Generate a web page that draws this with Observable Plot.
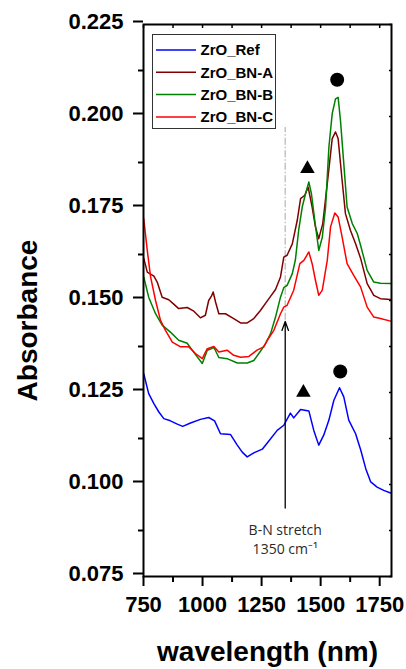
<!DOCTYPE html>
<html>
<head>
<meta charset="utf-8">
<script src="https://cdn.jsdelivr.net/npm/d3@7"></script>
<script src="https://cdn.jsdelivr.net/npm/@observablehq/plot@0.6"></script>
<style>
  html, body { margin: 0; padding: 0; background: #fff; }
  #wrap { position: relative; width: 406px; height: 669px; }
  #legend { position: absolute; left: 152px; top: 34px; width: 125px; height: 96px; }
</style>
</head>
<body>
<div id="wrap"><svg id="legend" width="125" height="96"></svg></div>
<script>
// ---- data ----
const seriesNames = ["ZrO_Ref", "ZrO_BN-A", "ZrO_BN-B", "ZrO_BN-C"];
const seriesColors = ["#0000ff", "#800000", "#008000", "#ff0000"];

const wlRef = [751,772,794,815,836,864,893,916,949,991,1026,1051,1076,1118,1147,1168,1189,1217,1253,1274,1316,1344,1372,1386,1415,1450,1471,1492,1513,1535,1556,1580,1598,1619,1648,1670,1691,1712,1739,1767,1796];
const absRef = [.1301,.1247,.1220,.1197,.1179,.1173,.1164,.1158,.1167,.1177,.1182,.1173,.1138,.1136,.1107,.1088,.1075,.1086,.1096,.1113,.1147,.1161,.1194,.1181,.1204,.1200,.1147,.1107,.1134,.1175,.1229,.1263,.1238,.1175,.1138,.1093,.1043,.1007,.0993,.0984,.0977];

const wlA = [751,766,794,808,829,857,878,899,935,963,991,1012,1026,1037,1045,1055,1069,1097,1132,1161,1189,1217,1245,1281,1309,1330,1344,1358,1380,1401,1415,1433,1447,1464,1478,1492,1509,1528,1549,1563,1574,1591,1605,1626,1648,1669,1697,1725,1753,1796];
const absA = [.1615,.1577,.1566,.1550,.1509,.1502,.1490,.1478,.1481,.1471,.1453,.1460,.1500,.1511,.1523,.1496,.1464,.1464,.1451,.1439,.1439,.1451,.1473,.1505,.1530,.1564,.1618,.1623,.1654,.1718,.1777,.1786,.1808,.1754,.1700,.1668,.1709,.1817,.1940,.1958,.1940,.1826,.1736,.1691,.1654,.1615,.1546,.1514,.1505,.1503];

const wlB = [751,772,801,829,864,899,935,963,999,1020,1037,1048,1069,1104,1147,1189,1217,1245,1267,1288,1309,1330,1344,1358,1380,1393,1407,1422,1436,1450,1461,1475,1492,1507,1521,1535,1549,1563,1574,1584,1598,1612,1634,1655,1669,1697,1725,1753,1796];
const absB = [.1564,.1509,.1464,.1433,.1414,.1392,.1384,.1359,.1329,.1365,.1369,.1373,.1345,.1342,.1330,.1330,.1337,.1362,.1383,.1410,.1455,.1509,.1535,.1541,.1573,.1610,.1691,.1754,.1790,.1822,.1790,.1718,.1636,.1672,.1754,.1917,.2008,.2048,.2052,.1989,.1872,.1754,.1709,.1682,.1650,.1582,.1550,.1547,.1546];

const wlC = [751,766,780,801,822,843,872,907,942,970,999,1020,1048,1069,1104,1132,1161,1196,1231,1259,1274,1302,1330,1344,1358,1386,1412,1429,1450,1464,1478,1492,1507,1528,1542,1560,1574,1591,1612,1640,1669,1697,1725,1753,1796];
const absC = [.1722,.1636,.1564,.1500,.1446,.1419,.1387,.1374,.1374,.1356,.1342,.1369,.1375,.1360,.1365,.1351,.1346,.1348,.1365,.1374,.1392,.1419,.1464,.1482,.1487,.1528,.1600,.1609,.1632,.1600,.1555,.1514,.1528,.1609,.1700,.1738,.1727,.1672,.1600,.1568,.1537,.1482,.1455,.1451,.1444];

// peak markers (triangles and circles)
const triWl = [1444, 1427];
const triAbs = [0.1858, 0.1250];
const circWl = [1570, 1583];
const circAbs = [0.2100, 0.1307];

// annotation
const annotWl = 1350;
const annotArrowFrom = 0.0936, annotArrowTo = 0.1443;
const annotGuideFrom = 0.1446, annotGuideTo = 0.1970;
const annotTextAbs = 0.0854;
const annotText = "B-N stretch\n1350 cm\u207B\u00B9";

// axes
const xMajor = [750, 1000, 1250, 1500, 1750];
const xMinor = [875, 1125, 1375, 1625];
const yMajor = [0.075, 0.100, 0.125, 0.150, 0.175, 0.200, 0.225];
const yMinor = [0.0875, 0.1125, 0.1375, 0.1625, 0.1875, 0.2125];
const xLabel = "wavelength (nm)";
const yLabel = "Absorbance";

// ---- build ----
const allWl = [wlRef, wlA, wlB, wlC];
const allAbs = [absRef, absA, absB, absC];
const rows = [];
allWl.forEach((w, s) => w.forEach((v, i) => rows.push({series: seriesNames[s], wl: v, abs: allAbs[s][i]})));
const tris = triWl.map((w, i) => ({wl: w, abs: triAbs[i]}));
const circs = circWl.map((w, i) => ({wl: w, abs: circAbs[i]}));
const xAll = [...xMajor, ...xMinor].sort((a, b) => a - b);
const yAll = [...yMajor, ...yMinor].sort((a, b) => a - b);
const blank = () => "";

const chart = Plot.plot({
  width: 406,
  height: 669,
  marginLeft: 143,
  marginRight: 15,
  marginTop: 24,
  marginBottom: 93,
  x: {domain: [750, 1800]},
  y: {domain: [0.075, 0.225]},
  color: {domain: seriesNames, range: seriesColors},
  style: {fontFamily: "'Liberation Sans', Arial, sans-serif", fontWeight: "bold", background: "white", color: "black", overflow: "visible"},
  marks: [
    Plot.axisY({ticks: yMajor, tickSize: 10, tickPadding: 10, tickFormat: d3.format(".3f"), fontSize: 22, dy: -3, label: null, strokeWidth: 2}),
    Plot.axisY({ticks: yMinor, tickSize: 5, tickFormat: blank, label: null, strokeWidth: 2}),
    Plot.axisX({ticks: xMajor, tickSize: 10, tickPadding: 10, tickFormat: d => String(d), fontSize: 22, label: null, strokeWidth: 2}),
    Plot.axisX({ticks: xMinor, tickSize: 6, tickFormat: blank, label: null, strokeWidth: 2}),
    Plot.axisX({anchor: "top", ticks: xAll, tickSize: -3, tickFormat: blank, label: null, strokeWidth: 1.5}),
    Plot.axisY({anchor: "right", ticks: yAll, tickSize: -3, tickFormat: blank, label: null, strokeWidth: 1.5}),
    Plot.ruleX([annotWl], {y1: annotGuideFrom, y2: annotGuideTo, stroke: "#bbbbbb", strokeWidth: 1.3, strokeDasharray: "7,2,1.5,2"}),
    Plot.line(rows, {x: "wl", y: "abs", z: "series", stroke: "series", strokeWidth: 1.5}),
    Plot.arrow([annotWl], {x1: d => d, x2: d => d, y1: annotArrowFrom, y2: annotArrowTo, stroke: "black", strokeWidth: 1.3, headLength: 11, headAngle: 40}),
    Plot.text([annotText], {x: annotWl, y: annotTextAbs, text: d => d, fontFamily: "'Open Sans', sans-serif", fontWeight: "normal", fontSize: 14, lineHeight: 1.4, fill: "#2a2a2a"}),
    Plot.dot(tris, {x: "wl", y: "abs", symbol: "triangle", r: 5.4, fill: "black", stroke: "none"}),
    Plot.dot(circs, {x: "wl", y: "abs", symbol: "circle", r: 7, fill: "black", stroke: "none"}),
    Plot.frame({stroke: "black", strokeWidth: 2}),
    Plot.text([yLabel], {frameAnchor: "left", textAnchor: "middle", lineAnchor: "middle", rotate: -90, dx: -115, dy: 20, fontSize: 28, text: d => d}),
    Plot.text([xLabel], {frameAnchor: "bottom", textAnchor: "middle", lineAnchor: "middle", dy: 76, fontSize: 28, text: d => d})
  ]
});
document.getElementById("wrap").prepend(chart);

// legend (inside the plot, top-left)
const lg = d3.select("#legend");
lg.append("rect").attr("x", 0.5).attr("y", 0.5).attr("width", 123).attr("height", 94)
  .attr("fill", "white").attr("stroke", "#333").attr("stroke-width", 1);
seriesNames.forEach((name, i) => {
  const cy = 16 + i * 22.3;
  lg.append("line").attr("x1", 4).attr("x2", 44).attr("y1", cy).attr("y2", cy)
    .attr("stroke", seriesColors[i]).attr("stroke-width", 1.5);
  lg.append("text").attr("x", 48.5).attr("y", cy).attr("dy", "0.36em")
    .attr("font-family", "'Liberation Sans', Arial, sans-serif").attr("font-weight", "bold")
    .attr("font-size", 15).attr("fill", "black").text(name);
});
</script>
</body>
</html>
